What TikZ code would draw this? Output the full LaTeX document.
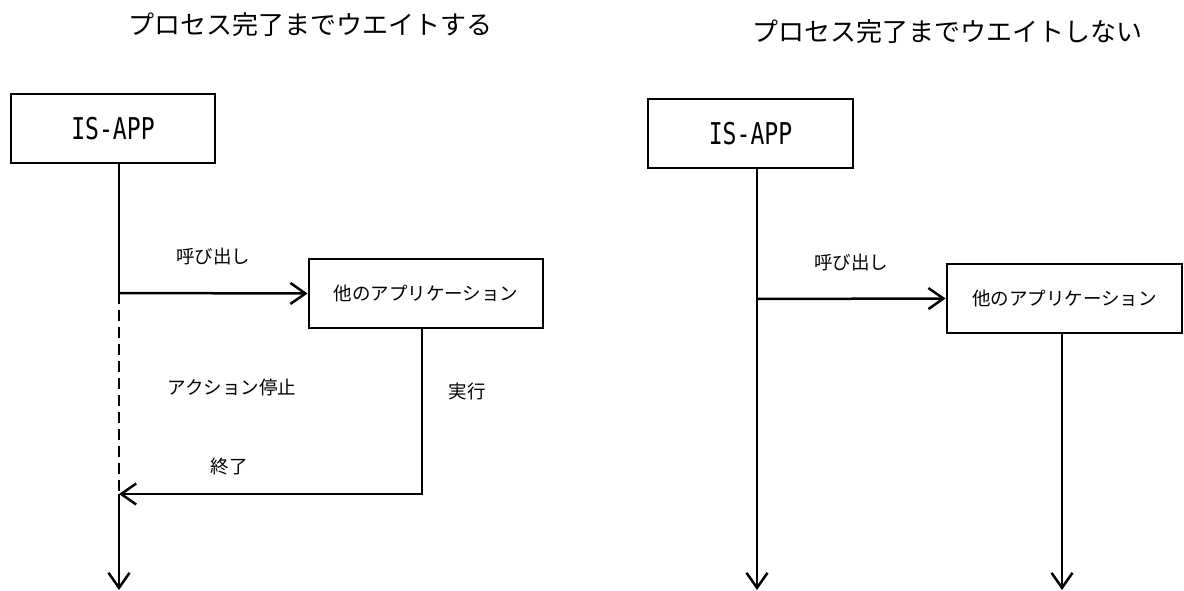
\documentclass[tikz,border=0pt]{standalone}
\usepackage{fontspec}
\setmainfont{Noto Sans CJK JP}
\newfontfamily\monofont{DejaVu Sans Mono}
\usetikzlibrary{arrows.meta}
\begin{document}
\begin{tikzpicture}[x=1pt,y=-1pt,
  box/.style={draw,line width=2.8pt,minimum height=69pt,inner sep=0pt},
  appbox/.style={box,minimum width=204pt,font=\monofont\fontsize{30}{32}\selectfont},
  otherbox/.style={box,minimum width=235pt,font=\fontsize{18.5}{20}\selectfont},
  ttl/.style={font=\fontsize{26}{28}\selectfont,inner sep=0pt},
  lbl/.style={font=\fontsize{18.5}{20}\selectfont,inner sep=0pt},
  life/.style={line width=2.5pt},
  wait/.style={line width=2.3pt,dash pattern=on 11pt off 6pt},
  tipd/.style={-{Straight Barb[length=15pt,width=21pt,line width=2.5pt]}},
  msg/.style={line width=2.5pt,tipd},
  thinret/.style={line width=1.2pt}]
\path[fill=white,use as bounding box] (0,0) rectangle (1184,591);

% ---------- left: wait ----------
\node[ttl] (lt) at (310,25) {プロセス完了までウエイトする};
\node[appbox] (la) at (113,128.5) {\scalebox{0.77}[1]{IS-APP}};
\node[otherbox,minimum width=234pt] (lo) at (426,293.5) {他のアプリケーション};

\coordinate (lcall) at (119,293);
\coordinate (lret) at (119,494);
\coordinate (lend) at (119,590);
\coordinate (lotop) at (422,328);
\coordinate (r1) at (303,494);
\coordinate (r2) at (158,494);

\draw[life] (119,163) -- (lcall);
\draw[wait] (lcall) -- (lret);
\draw[life,tipd] (lret) -- (lend);
\draw[msg] (lcall) -- (lo.west);
\draw[life] (lotop) |- (r1);
\draw[thinret] (r1) -- (r2);
\draw[msg] (r2) -- (lret);

\node[lbl] (lcallt) at (213,257) {呼び出し};
\node[lbl] (lstop) at (232,388) {アクション停止};
\node[lbl] (lexec) at (467,391) {実行};
\node[lbl] (lfin) at (229,467) {終了};

% ---------- right: no wait ----------
\node[ttl] (rt) at (947,32) {プロセス完了までウエイトしない};
\node[appbox,minimum width=205pt] (ra) at (750.5,133.5) {\scalebox{0.77}[1]{IS-APP}};
\node[otherbox] (ro) at (1064.5,298.5) {他のアプリケーション};

\coordinate (rtop) at (757,168);
\coordinate (rcall) at (757,299);
\coordinate (rend) at (757,590);
\coordinate (rotop) at (1062,333);
\coordinate (roend) at (1062,590);

\draw[life,tipd] (rtop) -- (rend);
\draw[msg] (rcall) -- (ro.west);
\draw[life,tipd] (rotop) -- (roend);

\node[lbl] (rcallt) at (851,263) {呼び出し};
\end{tikzpicture}
\end{document}
